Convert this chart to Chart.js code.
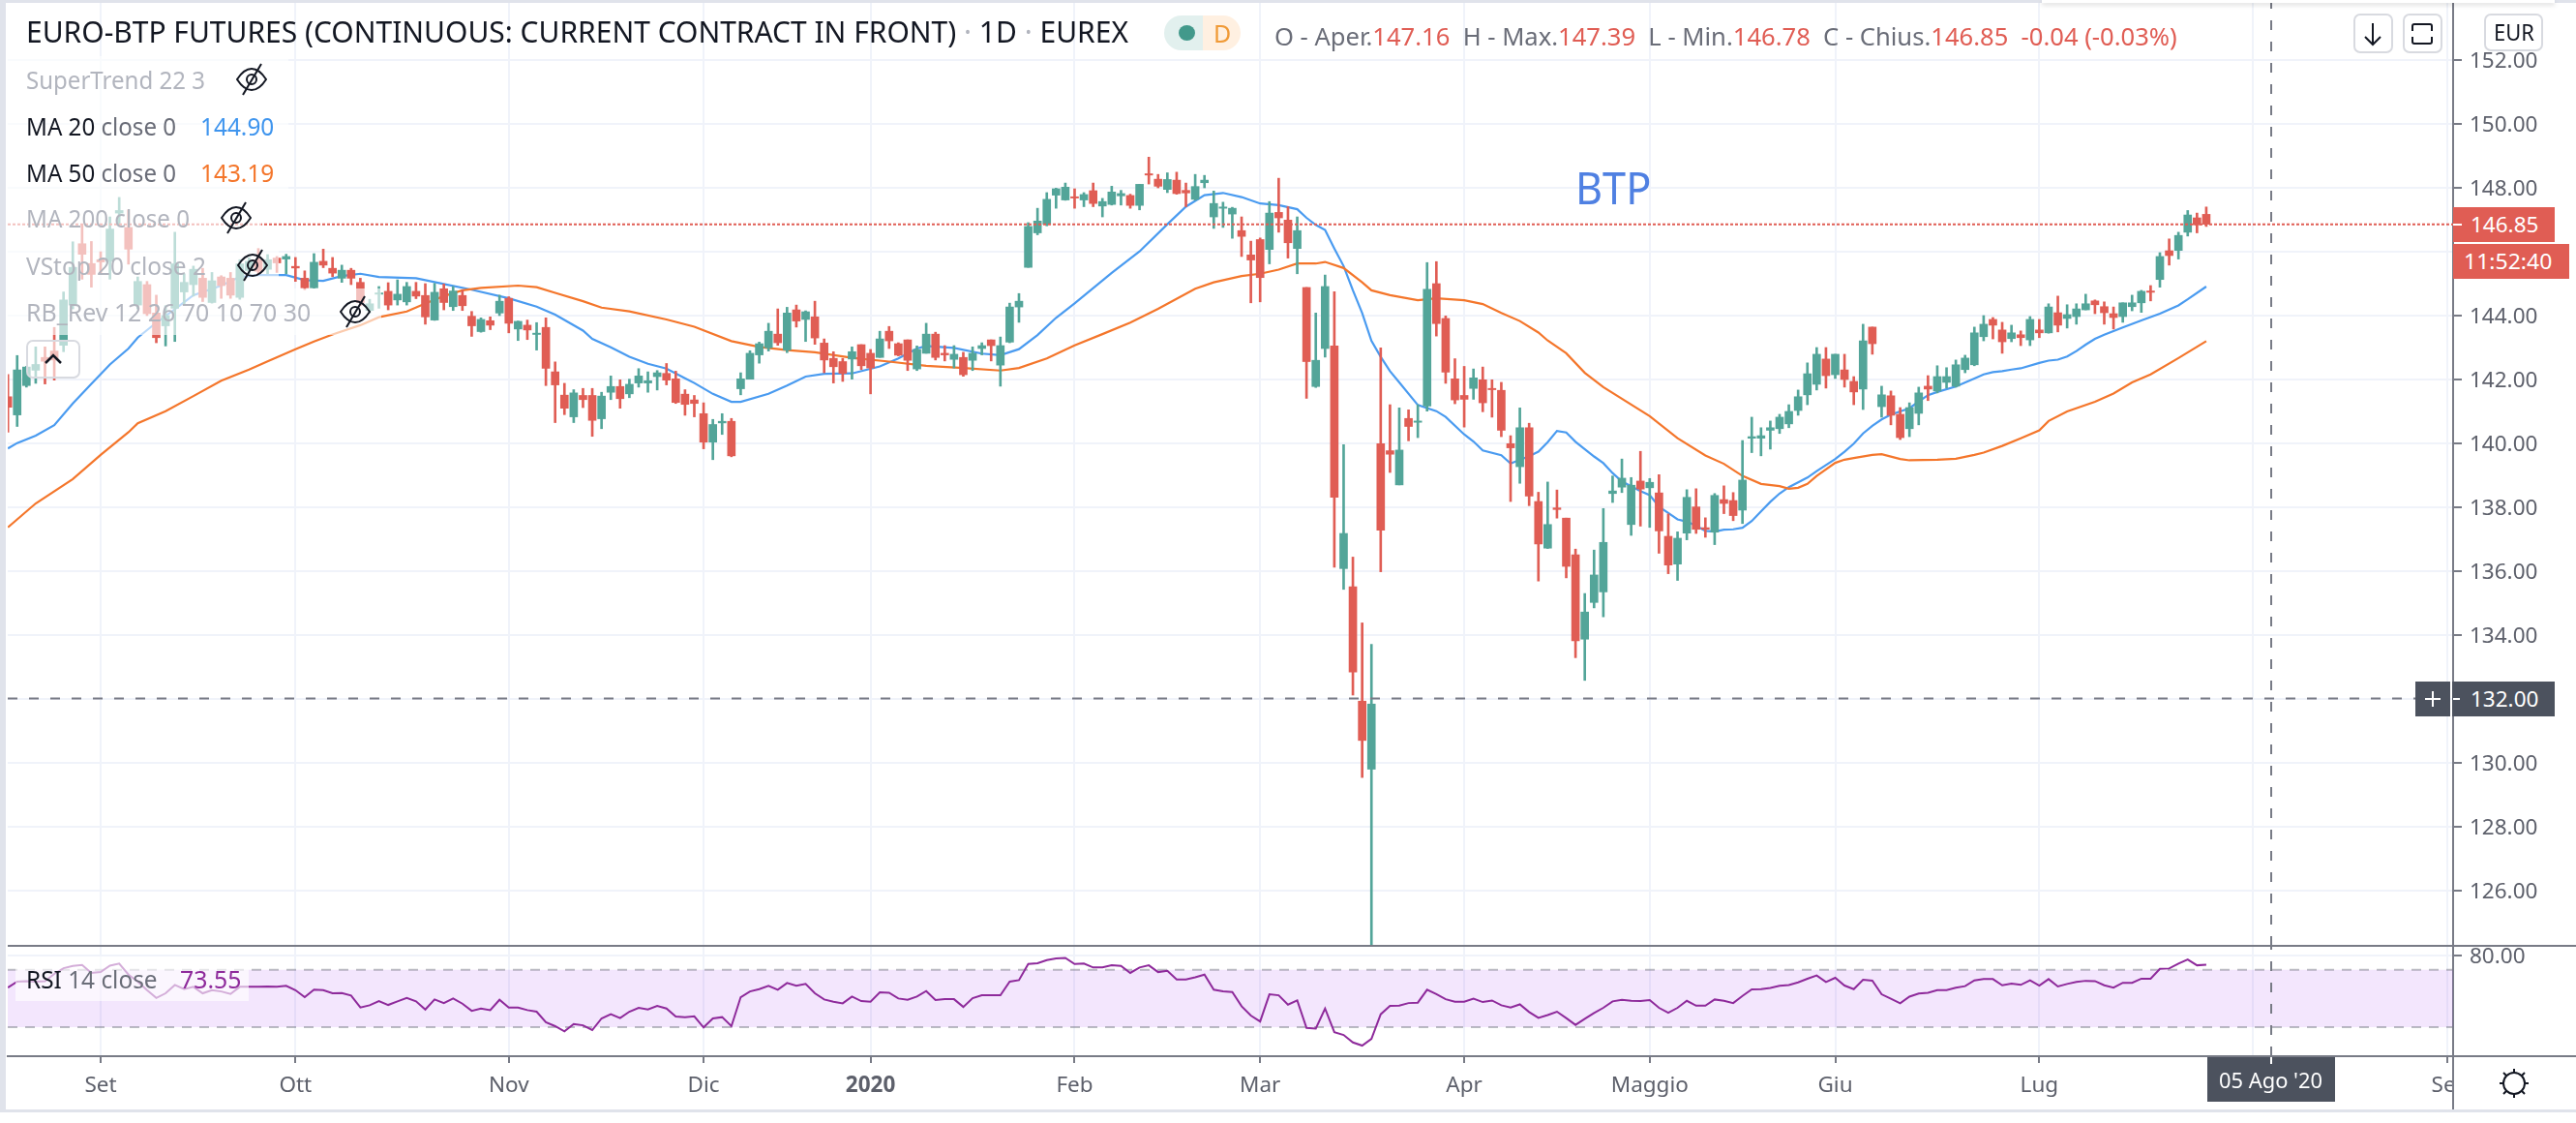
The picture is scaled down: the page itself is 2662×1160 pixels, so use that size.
<!DOCTYPE html>
<html>
<head>
<meta charset="utf-8">
<title>EURO-BTP Futures</title>
<script src="https://cdn.jsdelivr.net/npm/chart.js@4"></script>
<style>
  html, body { margin: 0; padding: 0; background: #fff; overflow: hidden; }
  body { width: 2662px; height: 1160px; position: relative; font-family: 'Noto Sans', sans-serif; }
  canvas { position: absolute; left: 0; }
  #main-chart { top: 0; }
  #rsi-chart { top: 977px; }
  .t { position: absolute; white-space: pre; transform-origin: left center; }
  .box { position: absolute; }
  .faded { color: #b2b5be; }
  .grey { color: #6a6d78; }
  .dark { color: #131722; }
  .red { color: #e05d54; }
  .row-bg { position: absolute; left: 8px; background: rgba(255, 255, 255, 0.62); }
  .btn { position: absolute; border: 2px solid #d8dae0; border-radius: 7px; background: #fff; box-sizing: border-box; }
  svg { position: absolute; overflow: visible; width: 1px; height: 1px; }
</style>
</head>
<body>
<canvas id="main-chart" width="2662" height="977"></canvas>
<canvas id="rsi-chart" width="2662" height="169"></canvas>

<!-- frame -->
<div class="box" style="left:0;top:0;width:6px;height:1149px;background:#e0e3eb"></div>
<div class="box" style="left:0;top:0;width:2662px;height:3px;background:#e0e3eb"></div>
<div class="box" style="left:2110px;top:0;width:530px;height:3px;background:#fff;box-shadow:0 2px 5px rgba(0,0,0,.18)"></div>
<div class="box" style="left:0;top:1146px;width:2662px;height:3px;background:#e0e3eb"></div>
<div class="box" style="left:8px;top:976px;width:2654px;height:2px;background:#787b86"></div>
<div class="box" style="left:2536px;top:1090px;width:126px;height:2px;background:#787b86"></div>
<div class="box" style="left:2536px;top:1092px;width:126px;height:54px;background:#fff"></div>
<div class="box" style="left:2534px;top:1091px;width:2px;height:55px;background:#787b86"></div>

<!-- legend rows -->
<div class="row-bg" style="top:58px;width:290px;height:48px"></div>
<div class="row-bg" style="top:106px;width:290px;height:48px"></div>
<div class="row-bg" style="top:154px;width:290px;height:48px"></div>
<div class="row-bg" style="top:202px;width:262px;height:48px"></div>
<div class="row-bg" style="top:250px;width:280px;height:48px"></div>
<div class="row-bg" style="top:298px;width:386px;height:48px"></div>
<div class="row-bg" style="left:16px;top:988px;width:241px;height:46px"></div>

<div class="t dark" data-w="1139" style="left:27px;top:12px;font-size:30px;line-height:42px">EURO-BTP FUTURES (CONTINUOUS: CURRENT CONTRACT IN FRONT) <span class="faded">·</span> 1D <span class="faded">·</span> EUREX</div>

<div class="box" style="left:1203px;top:16px;width:40px;height:36px;background:#e2f0ee;border-radius:18px 0 0 18px"></div>
<div class="box" style="left:1243px;top:16px;width:39px;height:36px;background:#fff0e1;border-radius:0 18px 18px 0"></div>
<div class="box" style="left:1218px;top:26px;width:17px;height:16px;background:#42998b;border-radius:50%"></div>
<div class="t" style="left:1254px;top:15px;font-size:25px;line-height:38px;color:#f09a37">D</div>

<div class="t grey" data-w="933" style="left:1317px;top:17px;font-size:25px;line-height:40px">O - Aper.<span class="red">147.16</span>  H - Max.<span class="red">147.39</span>  L - Min.<span class="red">146.78</span>  C - Chius.<span class="red">146.85  -0.04 (-0.03%)</span></div>

<div class="t faded" data-w="185" style="left:27px;top:62px;font-size:26px;line-height:40px">SuperTrend 22 3</div>
<div class="t grey" data-w="155" style="left:27px;top:110px;font-size:26px;line-height:40px"><span class="dark">MA 20</span> close 0</div>
<div class="t" data-w="76" style="left:207px;top:110px;font-size:26px;line-height:40px;color:#3f95ee">144.90</div>
<div class="t grey" data-w="155" style="left:27px;top:158px;font-size:26px;line-height:40px"><span class="dark">MA 50</span> close 0</div>
<div class="t" data-w="76" style="left:207px;top:158px;font-size:26px;line-height:40px;color:#f4762b">143.19</div>
<div class="t faded" data-w="169" style="left:27px;top:205px;font-size:26px;line-height:40px">MA 200 close 0</div>
<div class="t faded" data-w="186" style="left:27px;top:254px;font-size:26px;line-height:40px">VStop 20 close 2</div>
<div class="t faded" data-w="294" style="left:27px;top:302px;font-size:26px;line-height:40px">RB_Rev 12 26 70 10 70 30</div>

<svg class="eye" style="left:260px;top:82px"></svg>
<svg class="eye" style="left:244px;top:225px"></svg>
<svg class="eye" style="left:261px;top:274px"></svg>
<svg class="eye" style="left:367px;top:322px"></svg>

<div class="btn" style="left:27px;top:351px;width:56px;height:40px;background:rgba(255,255,255,.6)"></div>
<svg style="left:55px;top:371px"><path d="M-8 4 L0 -4 L8 4" fill="none" stroke="#131722" stroke-width="2.5"/></svg>

<div class="t" data-w="78" style="left:1628px;top:160px;font-size:46px;line-height:66px;color:#4f80e2">BTP</div>

<div class="btn" style="left:2432px;top:14px;width:41px;height:41px"></div>
<svg style="left:2452px;top:35px"><path d="M0 -11 V11 M-8 3 L0 11 L8 3" fill="none" stroke="#131722" stroke-width="2"/></svg>
<div class="btn" style="left:2483px;top:14px;width:41px;height:41px"></div>
<svg style="left:2503px;top:35px"><path d="M-10 -3 V-8 Q-10 -10 -8 -10 H8 Q10 -10 10 -8 V-3 M-10 3 V8 Q-10 10 -8 10 H8 Q10 10 10 8 V3" fill="none" stroke="#131722" stroke-width="2"/></svg>
<div class="btn" style="left:2567px;top:14px;width:61px;height:39px"></div>
<div class="t dark" data-w="42" style="left:2577px;top:15px;font-size:24px;line-height:36px">EUR</div>

<!-- price axis labels -->
<div class="box" style="left:2535px;top:214px;width:105px;height:36px;background:#e05d54"></div>
<div class="box" style="left:2535px;top:231px;width:9px;height:2px;background:#fff"></div>
<div class="t" data-w="70" style="left:2553px;top:214px;font-size:22.5px;line-height:36px;color:#fff">146.85</div>
<div class="box" style="left:2535px;top:252px;width:120px;height:36px;background:#e05d54"></div>
<div class="t" data-w="91" style="left:2546px;top:252px;font-size:22.5px;line-height:36px;color:#fff">11:52:40</div>

<div class="box" style="left:2496px;top:704px;width:36px;height:36px;background:#4c525e"></div>
<svg style="left:2514px;top:722px"><path d="M-8 0 H8 M0 -8 V8" stroke="#fff" stroke-width="2"/></svg>
<div class="box" style="left:2534px;top:704px;width:106px;height:36px;background:#4c525e"></div>
<div class="box" style="left:2535px;top:721px;width:7px;height:2px;background:#fff"></div>
<div class="t" data-w="70" style="left:2553px;top:704px;font-size:22.5px;line-height:36px;color:#fff">132.00</div>

<!-- time axis label -->
<div class="box" style="left:2281px;top:1092px;width:132px;height:46px;background:#4c525e"></div>
<div class="box" style="left:2346px;top:1092px;width:2px;height:7px;background:#fff"></div>
<div class="t" data-w="107" style="left:2293px;top:1097px;font-size:22.5px;line-height:38px;color:#fff">05 Ago '20</div>

<svg style="left:2598px;top:1119px" fill="none" stroke="#131722" stroke-width="2">
  <circle r="11"/><path d="M0 -15 V-11 M0 11 V15 M-15 0 H-11 M11 0 H15 M-11 -11 L-8 -8 M11 -11 L8 -8 M-11 11 L-8 8 M11 11 L8 8"/>
</svg>

<div class="t" data-w="136" style="left:27px;top:991px;font-size:26px;line-height:40px;color:#6a6d78"><span class="dark">RSI</span> 14 close</div>
<div class="t" data-w="63" style="left:186px;top:991px;font-size:26px;line-height:40px;color:#8e2a9b">73.55</div>

<script>
const opens = [
  141.45,140.88,141.8,142.28,142.68,142.88,143.06,144.32,146.24,145.62,
  145.74,145.69,147.2,146.75,144.32,144.96,144.07,143.67,144.22,144.73,
  144.96,145.16,144.4,145.2,145.16,144.56,145.4,145.74,145.44,145.79,
  145.76,145.53,145.16,144.86,145.69,145.47,145.16,145.41,145.03,144.15,
  144.66,144.75,144.48,144.42,144.75,144.62,143.85,144.83,144.27,144.62,
  143.97,143.49,143.83,144.07,144.53,143.57,143.69,143.4,143.62,142.23,
  141.5,140.82,141.49,141.49,140.76,141.59,141.77,141.54,141.88,141.88,
  142.08,142.18,142.01,141.53,141.35,140.92,140.03,140.63,140.68,141.7,
  142,142.76,142.98,143.41,142.91,144.17,143.87,143.95,143.13,142.65,
  142.55,142.63,143.08,142.81,142.68,143.5,143.11,143.23,142.32,142.81,
  143.41,142.81,142.62,142.68,142.59,142.96,143.23,142.44,143.16,144.26,
  145.5,146.58,146.85,147.76,147.61,147.71,147.61,147.9,147.42,147.47,
  147.74,147.75,147.44,148.43,148.26,147.94,148.23,147.91,147.63,148.15,
  147.08,147.35,147.17,146.65,145.89,146.37,146.06,147.22,146.98,146.09,
  144.87,141.77,142.96,143.04,136.07,135.5,131.92,129.79,139.98,139.76,
  138.69,140.77,140.65,141.16,144.99,143.9,142.01,141.49,141.71,141.98,
  141.71,141.65,139.98,139.26,140.48,138.17,136.71,137.97,137.65,136.5,
  133.86,135.01,135.34,138.42,138.62,137.45,138.81,138.6,138.44,137.08,
  136.21,137.18,138,137.35,137.21,138.23,138.2,137.9,140.15,140.15,
  140.4,140.45,140.6,141.02,141.51,141.84,142.63,142.14,142.29,141.93,
  141.69,143.63,141.14,141.48,140.9,140.45,140.93,141.78,141.63,141.9,
  141.78,142.3,142.45,143.33,143.87,143.54,143.27,143.39,143.23,143.54,
  143.45,144.08,143.9,143.96,144.17,144.45,144.27,144.05,143.96,144.27,
  144.39,144.76,145.12,146.02,146.03,146.6,147.05,147.16
];
const highs = [
  142.15,142.74,142.4,143.01,143.01,143.62,144.73,146.3,146.85,146.31,
  145.99,147.08,147.69,147.3,145.2,145.06,144.63,144.3,146.6,145.3,
  145.54,145.47,145.34,145.24,145.34,145.74,145.8,146.09,145.9,145.84,
  145.91,145.81,145.39,145.93,146.07,145.81,145.57,145.47,145.16,144.5,
  144.9,145.02,145.11,145.03,145.03,144.99,145,144.98,144.9,144.78,
  144.12,143.92,143.95,144.63,144.58,143.82,143.85,143.77,143.92,142.54,
  141.87,141.67,141.71,141.71,141.59,142.1,141.98,142,142.33,142.23,
  142.27,142.49,142.25,141.67,141.49,141.26,140.74,140.92,140.77,142.2,
  142.89,143.16,143.75,144.2,144.25,144.32,144.14,144.44,143.26,142.86,
  142.65,143.01,143.08,142.93,143.5,143.65,143.14,143.23,143.04,143.75,
  143.47,143.05,143.05,142.84,143.01,143.14,143.23,143.32,144.38,144.68,
  146.9,147.35,147.84,147.98,148.14,147.96,147.84,148.14,147.66,148.04,
  147.91,147.79,148.1,148.95,148.41,148.46,148.48,148.14,148.41,148.38,
  147.89,147.54,147.38,147.08,146.32,146.42,147.56,148.29,147.4,147.08,
  144.87,144.07,145.26,144.74,139.95,136.43,134.37,133.7,142.98,141.2,
  141.1,141.04,141.2,145.65,145.68,143.98,142.64,142.4,142.32,142.38,
  141.98,141.9,140.23,141.1,140.62,138.46,138.78,138.53,137.65,136.68,
  135.29,136.65,137.95,138.97,139.5,138.92,139.74,138.89,139.01,137.78,
  137.22,138.54,138.57,137.66,138.42,138.66,138.45,140.08,140.81,140.48,
  140.69,140.9,141.2,141.66,142.51,142.99,142.99,142.78,142.78,142.08,
  143.72,143.63,141.78,141.63,141.11,141.26,141.75,142.11,142.42,142.36,
  142.6,142.75,143.63,143.99,143.93,143.78,143.69,143.51,143.96,143.87,
  144.36,144.6,144.33,144.36,144.66,144.48,144.42,144.26,144.39,144.63,
  144.78,144.93,145.96,146.39,146.6,147.28,147.2,147.39
];
const lows = [
  140.34,140.52,141.75,141.87,141.85,141.97,142.86,144.2,145.13,144.88,
  145.28,145.13,146.8,145.6,144.2,143.99,143.14,143.04,143.18,144.32,
  144.6,144.43,144.38,144.53,144.53,144.5,145.3,145.3,145.3,145.34,
  145.3,145.06,144.8,144.85,145.49,145.21,145.03,144.96,144.3,144.07,
  144.22,144.17,144.32,144.32,144.52,143.72,143.84,144.17,144.15,144.15,
  143.34,143.47,143.55,143.99,143.45,143.21,143.24,142.91,141.8,140.64,
  140.89,140.64,141.11,140.21,140.45,141.36,141.09,141.42,141.75,141.59,
  141.66,141.82,141.24,140.87,140.82,139.82,139.48,140.27,139.57,141.51,
  142,142.5,142.88,143.06,142.83,143.63,143.18,143.09,142.2,141.88,
  141.93,142,142.3,141.54,142.68,142.96,142.73,142.27,142.27,142.81,
  142.6,142.57,142.35,142.09,142.27,142.76,142.57,141.78,143.14,143.78,
  145.5,146.52,146.8,147.35,147.6,147.35,147.4,147.4,147.08,147.45,
  147.45,147.35,147.3,148.11,147.99,147.84,147.79,147.4,147.6,147.99,
  146.72,146.75,146.41,145.84,144.39,144.42,145.61,146.6,145.79,145.3,
  141.4,141.74,142.69,136.11,135.42,132.11,129.53,124,135.97,139.08,
  138.69,140.07,140.17,141,143.35,141.87,141.23,140.5,141.37,140.98,
  140.81,140.2,138.17,138.74,138.04,135.68,136.7,137.65,135.78,133.28,
  132.57,134.84,134.56,138.14,138.45,137.11,137.4,137.36,136.55,135.91,
  135.7,136.97,137.17,137.05,136.82,137.79,137.57,137.48,139.7,139.6,
  139.81,140.3,140.48,140.87,141.2,141.66,141.72,142.02,141.75,141.2,
  141.05,142.78,140.81,140.57,140.11,140.2,140.57,141.33,141.57,141.72,
  141.75,142.2,142.42,143.2,143.26,142.81,143.17,143.05,143.05,143.3,
  143.44,143.48,143.6,143.72,144.17,144.05,143.72,143.57,143.78,144.14,
  144.09,144.45,144.88,145.57,145.76,146.48,146.58,146.78
];
const closes = [
  141.12,142.29,142.38,142.46,142.56,142.6,144.48,145.5,145.91,145.28,
  145.67,146.7,147.28,146.07,145.06,144.05,143.3,143.99,145.61,145.03,
  145.44,144.56,145.08,144.93,144.63,145.61,145.69,145.38,145.74,145.64,
  145.84,145.48,144.86,145.66,145.57,145.32,145.41,145.16,144.4,144.36,
  144.7,144.32,144.66,144.9,144.6,143.95,144.72,144.4,144.76,144.3,
  143.67,143.87,143.69,144.44,143.75,143.81,143.54,143.44,142.34,141.82,
  141.09,141.57,141.36,140.71,141.47,141.77,141.39,141.84,142.1,141.95,
  142.2,141.97,141.27,141.21,141.24,140.03,140.58,140.68,139.6,142.01,
  142.81,143.11,143.5,143.14,144.07,143.82,144.11,143.29,142.6,142.39,
  142.18,142.86,142.42,142.35,143.26,143.2,142.75,142.59,142.93,143.41,
  142.68,142.76,142.78,142.14,142.81,143.05,143.05,143.05,144.26,144.44,
  146.78,146.95,147.63,147.96,148.01,147.67,147.78,147.5,147.56,147.86,
  147.81,147.44,148.1,148.39,148.04,148.25,147.81,147.83,148.03,148.23,
  147.5,147.39,147.35,146.47,145.73,145.18,147.2,147.05,146.27,146.65,
  142.55,142.59,144.9,138.3,137.17,132.83,130.69,131.83,137.27,139.65,
  139.78,140.52,140.69,144.81,143.74,142.22,141.35,141.37,142.04,141.26,
  141.67,140.4,139.85,140.48,138.34,136.84,137.45,137.92,136.14,133.81,
  134.71,135.87,136.89,138.5,138.9,138.68,138.56,138.77,137.25,136.18,
  137.02,138.3,137.3,137.3,138.36,138.11,137.73,138.84,140.2,140.23,
  140.48,140.81,140.99,141.45,142.17,142.78,142.11,142.78,141.99,141.6,
  143.2,143.11,141.51,140.87,140.17,141.11,141.57,141.69,142.08,142.08,
  142.45,142.66,143.45,143.72,143.69,143.17,143.45,143.3,143.87,143.45,
  144.26,143.69,144.02,144.2,144.36,144.33,144.08,143.93,144.39,144.39,
  144.75,144.72,145.84,145.87,146.5,147.14,146.83,146.85
];

// moving averages: [bar, price]
const ma20 = [
  [0,139.83],[1,140],[3,140.23],[5,140.56],[7,141.24],[9,141.85],[11,142.46],[13,142.96],[14,143.3],[16,143.77],
  [18,144.19],[20,144.63],[23,144.93],[25,145.2],[27,145.26],[30,145.26],[32,145.1],[34,145.08],[36,145.23],[38,145.3],
  [40,145.2],[44,145.16],[47,144.98],[50,144.8],[54,144.53],[57,144.27],[59,144.02],[62,143.52],[63,143.26],[65,143],
  [67,142.7],[69,142.48],[71,142.33],[73,142.03],[74,141.88],[76,141.54],[78,141.29],[79,141.29],[82,141.54],[84,141.8],
  [86,142.08],[88,142.17],[91,142.18],[94,142.4],[96,142.65],[98,142.96],[99,143.04],[102,142.98],[105,142.8],[107,142.75],
  [109,142.94],[111,143.38],[113,143.92],[115,144.37],[119,145.33],[122,146],[125,146.85],[127,147.4],[129,147.76],[131,147.83],
  [133,147.7],[135,147.5],[137,147.45],[139,147.32],[140,147.05],[141,146.83],[142,146.67],[143,146.09],[144,145.54],[145,144.78],
  [146,144.07],[147,143.2],[148,142.7],[149,142.25],[150,141.9],[152,141.19],[154,141],[155,140.82],[157,140.27],[158,140.05],
  [159,139.77],[161,139.62],[162,139.36],[164,139.59],[165,139.73],[166,140.03],[167,140.38],[168,140.33],[169,140.04],[171,139.58],
  [172,139.37],[173,139.06],[174,138.8],[176,138.5],[177,138.37],[178,138.01],[179,137.81],[180,137.61],[181,137.54],[182,137.41],
  [183,137.25],[184,137.23],[185,137.29],[186,137.3],[187,137.35],[188,137.56],[189,137.86],[190,138.16],[191,138.42],[192,138.62],
  [193,138.77],[194,138.92],[195,139.12],[197,139.5],[198,139.73],[199,139.98],[200,140.3],[201,140.54],[202,140.74],[203,140.89],
  [205,141.09],[206,141.3],[207,141.5],[208,141.6],[210,141.77],[212,142.02],[213,142.15],[214,142.22],[215,142.25],[216,142.3],
  [217,142.34],[219,142.51],[220,142.58],[221,142.61],[222,142.71],[223,142.88],[224,143.08],[225,143.26],[226,143.39],[228,143.62],
  [230,143.84],[232,144.05],[234,144.31],[235,144.5],[237,144.9]
];
const ma50 = [
  [0,137.36],[3,138.11],[7,138.87],[10,139.63],[13,140.34],[14,140.62],[17,141],[20,141.47],[23,141.95],[26,142.3],
  [28,142.56],[31,142.94],[33,143.18],[35,143.4],[38,143.69],[40,143.94],[43,144.12],[45,144.37],[47,144.6],[49,144.78],
  [51,144.86],[55,144.93],[57,144.88],[59,144.7],[62,144.44],[64,144.24],[67,144.12],[71,143.87],[74,143.64],[78,143.19],
  [81,143.01],[84,142.91],[87,142.84],[91,142.67],[95,142.55],[99,142.42],[103,142.35],[107,142.27],[109,142.35],[112,142.65],
  [115,143.06],[118,143.41],[121,143.77],[124,144.2],[128,144.83],[130,145.03],[133,145.23],[135,145.3],[137,145.43],[139,145.62],
  [141,145.62],[142,145.67],[144,145.48],[146,145.03],[147,144.78],[149,144.63],[152,144.47],[154,144.53],[157,144.47],[159,144.35],
  [161,144.07],[163,143.82],[165,143.46],[166,143.21],[168,142.81],[170,142.2],[172,141.75],[177,140.84],[180,140.15],[183,139.61],
  [185,139.35],[187,138.97],[189,138.72],[191,138.65],[192,138.57],[193,138.6],[194,138.72],[195,138.97],[197,139.38],[198,139.48],
  [199,139.53],[201,139.63],[202,139.65],[204,139.5],[205,139.46],[208,139.48],[210,139.51],[212,139.63],[213,139.7],[215,139.91],
  [217,140.15],[219,140.4],[220,140.69],[222,140.99],[225,141.29],[227,141.55],[229,141.9],[231,142.15],[234,142.66],[237,143.19]
];
const rsi = [
  57.6,61.7,62.1,61.7,62.1,67.1,71.1,72.7,73.4,67.8,
  68.4,72.9,74.3,66.6,61.7,55.8,50.4,53.6,59.4,56.5,
  58.1,53.6,55.8,54.9,53.1,58.1,58.1,58.1,58.3,58.1,
  58.8,55.8,50.9,56.1,55.8,53.6,53.8,52,43.7,45.3,
  48.2,45.5,48,50.4,48,42.3,49.3,46.8,50,46.4,
  41.4,43,41.9,49.1,43.7,43.7,41.9,40.8,33.4,30.7,
  27.1,32.2,31.3,28,36.1,39,36.3,40.8,43.5,42.3,
  44.8,43,37.4,37,37.6,29.8,36.1,37,30.7,50.9,
  54.9,56.5,58.8,56.1,60.8,58.8,60.1,53.6,49.3,47.7,
  46.6,51.3,48.2,47.7,54.3,54,50,49.1,51.3,55.2,
  48.9,49.5,49.5,44.1,50.2,52.2,52.2,52.2,61.7,62.8,
  74,74.5,76.7,77.9,78.3,74,74.3,71.6,71.6,73.1,
  72.7,67.8,71.6,73.1,68.4,69.3,63.3,63.3,64.8,66.6,
  56.1,54.9,54.5,44.6,38.1,34,52.9,52.2,45.7,48.6,
  29.5,29.1,43,26.6,24.6,19.4,17.2,21.9,39,44.8,
  45,46.8,47.1,56.1,53.1,49.5,47.7,47.7,49.8,47.5,
  48.6,45.3,43.7,45.9,40.6,36.5,38.5,40.8,36.3,31.6,
  35.8,39.9,43.5,48,49.1,48.4,48.2,48.9,43.5,40.1,
  43.5,48.4,45,45,49.3,48.4,46.8,51.8,56.3,56.5,
  57.4,58.8,59.4,61.2,63.7,66,61.5,64.4,59,56.5,
  63,62.4,52.9,49.8,46.6,51.3,53.4,54,55.8,55.8,
  57.5,58.6,62.6,63.5,63.5,59.2,60.4,59.5,62.6,58.9,
  63.5,58.4,60.1,61.5,62.3,62.1,59.2,57.5,60.9,60.9,
  63.8,63.8,70.6,70.9,74.3,77.1,73.1,73.55
];

const priceTicks = [126, 128, 130, 132, 134, 136, 138, 140, 142, 144, 146, 148, 150, 152];
const rsiTicks = [80];
const monthBars = [10, 31, 54, 75, 93, 115, 135, 157, 177, 197, 219, 242, 263];
const monthLabels = ['Set', 'Ott', 'Nov', 'Dic', '2020', 'Feb', 'Mar', 'Apr', 'Maggio', 'Giu', 'Lug', 'Ago', 'Set'];
const lastPrice = 146.85;
const crosshairPrice = 132;
const crosshairBar = 244;
const rsiUpper = 70;
const rsiLower = 30;

const xMin = -0.016, xMax = 263.61;
const priceMin = 124.26, priceMax = 153.87;
const rsiMin = 9.8, rsiMax = 86.66;

const UP = '#53a599', DOWN = '#e05d54', GRID = '#f0f3fa', AXIS = '#787b86', LABEL = '#5d606b';
const FONT = { family: "'Noto Sans', sans-serif", size: 22.5 };

const candleColors = closes.map((c, i) => (c >= opens[i] ? UP : DOWN));
const toPoints = list => list.map(p => ({ x: p[0], y: p[1] }));
const hline = (y, color, dash, width) => ({
  type: 'line',
  data: [{ x: xMin, y: y }, { x: xMax, y: y }],
  borderColor: color,
  borderDash: dash,
  borderWidth: width,
  pointRadius: 0,
  order: 0
});
const vline = (x, min, max) => ({
  type: 'line',
  data: [{ x: x, y: min }, { x: x, y: max }],
  borderColor: AXIS,
  borderDash: [10, 12],
  borderWidth: 2,
  pointRadius: 0,
  order: 0
});
const maLine = (list, color) => ({
  type: 'line',
  data: toPoints(list),
  borderColor: color,
  borderWidth: 2.2,
  pointRadius: 0,
  tension: 0,
  order: 5
});
// tick labels must not push the plot area in: the panes fill their canvas edge to edge
const fitBox = (width, height) => scale => {
  if (width !== null) scale.width = width;
  if (height !== null) scale.height = height;
  scale.paddingTop = scale.paddingBottom = scale.paddingLeft = scale.paddingRight = 0;
};

const xAxis = {
  type: 'linear',
  min: xMin,
  max: xMax,
  offset: false,
  afterBuildTicks: scale => { scale.ticks = monthBars.map(v => ({ value: v })); }
};

const main_chart = new Chart(document.getElementById('main-chart'), {
  type: 'bar',
  data: {
    datasets: [
      maLine(ma50, '#f4762b'),
      maLine(ma20, '#4a9bf0'),
      {
        data: lows.map((l, i) => ({ x: i, y: [l, highs[i]] })),
        backgroundColor: candleColors,
        barThickness: 2,
        grouped: false,
        order: 3
      },
      {
        data: opens.map((o, i) => ({ x: i, y: [o, closes[i]] })),
        backgroundColor: candleColors,
        barThickness: 8,
        grouped: false,
        order: 2
      },
      hline(lastPrice, DOWN, [3, 2], 2),
      hline(crosshairPrice, AXIS, [10, 12], 2),
      vline(crosshairBar, priceMin, priceMax)
    ]
  },
  options: {
    responsive: false,
    animation: false,
    layout: { padding: { left: 8 }, autoPadding: false },
    plugins: { legend: { display: false }, tooltip: { enabled: false } },
    scales: {
      x: {
        ...xAxis,
        afterFit: fitBox(null, 0),
        grid: { color: GRID, lineWidth: 2, drawTicks: false, offset: false },
        border: { display: false },
        ticks: { display: false }
      },
      y: {
        position: 'right',
        min: priceMin,
        max: priceMax,
        afterBuildTicks: scale => { scale.ticks = priceTicks.map(v => ({ value: v })); },
        afterFit: fitBox(127, null),
        grid: { color: GRID, lineWidth: 2, tickColor: AXIS, tickLength: 9 },
        border: { color: AXIS, width: 2 },
        ticks: {
          autoSkip: false,
          color: LABEL,
          font: FONT,
          padding: 8,
          labelOffset: 2,
          callback: v => v.toFixed(2)
        }
      }
    }
  }
});

const rsi_chart = new Chart(document.getElementById('rsi-chart'), {
  type: 'line',
  data: {
    datasets: [
      {
        ...hline(rsiUpper, 'rgba(120, 123, 134, 0.5)', [10, 8], 2),
        fill: '+1',
        backgroundColor: 'rgba(149, 30, 235, 0.11)',
        order: 3
      },
      { ...hline(rsiLower, 'rgba(120, 123, 134, 0.5)', [10, 8], 2), order: 2 },
      {
        data: rsi.map((v, i) => ({ x: i, y: v })),
        borderColor: '#8e2a9b',
        borderWidth: 2,
        pointRadius: 0,
        tension: 0,
        order: 1
      },
      vline(crosshairBar, rsiMin, rsiMax)
    ]
  },
  options: {
    responsive: false,
    animation: false,
    layout: { padding: { left: 8 }, autoPadding: false },
    plugins: { legend: { display: false }, tooltip: { enabled: false } },
    scales: {
      x: {
        ...xAxis,
        afterFit: fitBox(null, 55),
        grid: { color: GRID, lineWidth: 2, tickColor: AXIS, tickLength: 7 },
        border: { color: AXIS, width: 2 },
        ticks: {
          autoSkip: false,
          maxRotation: 0,
          color: LABEL,
          padding: 10,
          font: ctx => (ctx.tick && ctx.tick.value === 93 ? { ...FONT, weight: 'bold' } : FONT),
          callback: v => monthLabels[monthBars.indexOf(v)]
        }
      },
      y: {
        position: 'right',
        min: rsiMin,
        max: rsiMax,
        afterBuildTicks: scale => { scale.ticks = rsiTicks.map(v => ({ value: v })); },
        afterFit: fitBox(127, null),
        grid: { color: GRID, lineWidth: 2, tickColor: AXIS, tickLength: 9 },
        border: { color: AXIS, width: 2 },
        ticks: {
          autoSkip: false,
          color: LABEL,
          font: FONT,
          padding: 8,
          labelOffset: 2,
          callback: v => v.toFixed(2)
        }
      }
    }
  }
});

// crossed-out eye used on the hidden indicators
document.querySelectorAll('svg.eye').forEach(svg => {
  svg.innerHTML = '<g fill="none" stroke="#131722" stroke-width="2">' +
    '<path d="M-15 0 Q-8 -11 0 -11 Q8 -11 15 0 Q8 11 0 11 Q-8 11 -15 0 Z"/>' +
    '<circle r="5"/><path d="M-9 16 L10 -16"/></g>';
});

// squeeze the text to the measured widths
document.querySelectorAll('[data-w]').forEach(elem => {
  elem.style.transform = 'scaleX(' + elem.dataset.w / elem.offsetWidth + ')';
});
</script>
</body>
</html>
